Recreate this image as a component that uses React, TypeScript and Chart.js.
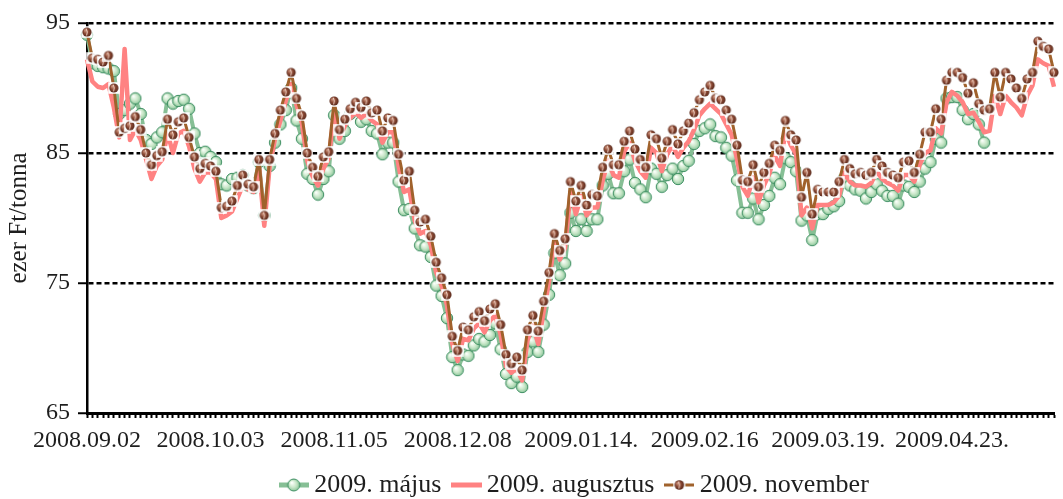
import React, { useEffect, useRef } from 'react';
import { Chart, registerables } from 'chart.js';

Chart.register(...registerables);

// ---- data -------------------------------------------------------------
const TICK_LABELS = [
  '2008.09.02', '2008.10.03', '2008.11.05', '2008.12.08',
  '2009.01.14.', '2009.02.16', '2009.03.19.', '2009.04.23.',
];
const LABEL_STEP = 23; // one label every 23 trading days

const SERIES_NAMES = ['2009. május', '2009. augusztus', '2009. november'];

const MAY = [
  94.1, 91.9, 91.7, 91.6, 91.5, 91.3, 88.0, 88.3, 88.8, 89.2,
  88.0, 86.0, 85.7, 86.2, 86.6, 89.2, 88.8, 89.0, 89.1, 88.4,
  86.5, 85.0, 85.1, 84.7, 84.3, 82.6, 82.5, 83.0, 83.1, 83.3,
  82.5, 82.3, 84.3, 80.2, 84.0, 85.8, 87.2, 88.3, 90.0, 87.5,
  86.1, 83.4, 83.0, 81.8, 83.0, 83.6, 87.9, 86.1, 86.7, 88.0,
  88.4, 87.4, 87.6, 86.7, 86.5, 84.9, 85.8, 85.8, 82.8, 80.6,
  80.7, 79.2, 77.9, 77.8, 77.0, 74.8, 74.0, 72.3, 69.3, 68.3,
  69.5, 69.4, 70.2, 70.7, 70.5, 71.0, 71.9, 69.9, 68.0, 67.3,
  67.8, 67.0, 69.7, 70.5, 69.7, 71.8, 74.1, 77.3, 75.6, 76.5,
  80.4, 79.0, 79.9, 79.0, 79.9, 79.9, 82.5, 83.4, 81.9, 81.9,
  83.6, 84.5, 82.7, 82.2, 81.6, 83.8, 83.4, 82.4, 83.3, 83.8,
  83.0, 84.0, 84.4, 85.7, 86.7, 86.9, 87.2, 86.3, 86.2, 85.4,
  84.8, 82.9, 80.4, 80.4, 81.5, 79.9, 81.0, 81.7, 83.1, 82.6,
  84.6, 84.3, 83.6, 79.8, 80.2, 78.3, 80.3, 80.3, 80.7, 80.9,
  81.3, 83.1, 82.5, 82.2, 82.1, 81.5, 82.0, 82.6, 82.1, 81.7,
  81.7, 81.1, 82.5, 82.4, 82.0, 82.8, 83.8, 84.3, 86.1, 85.8,
  89.2, 89.3, 89.3, 88.3, 87.6, 88.0, 87.2, 85.8,
];

const AUG = [
  92.2, 90.5, 90.1, 90.0, 90.3, 88.5, 86.2, 93.0, 86.0, 86.8,
  86.0, 84.5, 83.0, 84.0, 84.5, 86.5, 85.0, 86.5, 86.7, 85.5,
  83.8, 82.8, 83.5, 83.5, 83.0, 80.0, 80.2, 80.5, 81.5, 82.5,
  82.2, 82.0, 84.0, 79.4, 84.0, 86.1, 87.5, 89.0, 90.3, 88.7,
  87.3, 84.4, 83.2, 82.5, 83.8, 84.6, 88.1, 86.1, 87.1, 87.7,
  88.1, 87.7, 88.0, 87.5, 87.2, 85.8, 86.6, 86.6, 84.0, 82.0,
  82.2, 79.8, 78.8, 79.0, 77.9, 75.8, 74.8, 73.3, 70.3, 69.0,
  70.7, 70.6, 71.5, 71.9, 71.2, 72.1, 72.5, 71.0, 68.6, 68.1,
  68.4, 67.5, 70.6, 71.7, 70.3, 72.8, 75.1, 78.1, 76.8, 77.7,
  82.0, 80.3, 81.7, 80.2, 80.8, 80.8, 82.9, 84.4, 83.3, 83.1,
  85.1, 85.8, 84.4, 83.6, 83.1, 85.4, 85.0, 83.6, 84.9, 85.6,
  84.7, 85.4, 85.9, 86.8, 87.9, 88.4, 88.8, 88.4, 88.0, 87.2,
  86.4, 84.5, 82.4, 81.7, 83.1, 81.2, 82.5, 83.4, 84.8, 84.0,
  86.6, 85.6, 84.9, 80.2, 80.8, 79.2, 81.0, 81.0, 81.0, 81.2,
  81.7, 83.5, 82.8, 82.5, 82.5, 82.4, 82.7, 83.6, 83.0, 82.7,
  82.5, 82.1, 83.3, 83.3, 82.8, 84.1, 85.0, 85.2, 86.9, 86.5,
  88.9, 89.7, 89.4, 88.9, 88.0, 88.1, 87.4, 86.6, 86.7, 89.4,
  88.0, 89.4, 88.9, 88.5, 87.9, 89.4, 90.2, 92.2, 91.9, 91.7,
  90.1,
];

const NOV = [
  94.3, 92.3, 92.2, 92.0, 92.5, 90.0, 86.6, 86.9, 87.1, 87.8,
  86.8, 85.0, 84.1, 84.8, 85.1, 87.6, 86.4, 87.4, 87.7, 86.2,
  84.7, 83.8, 84.2, 84.0, 83.6, 80.8, 80.9, 81.3, 82.5, 83.3,
  82.6, 82.4, 84.5, 80.2, 84.5, 86.5, 88.3, 89.7, 91.2, 89.2,
  87.9, 85.0, 83.9, 83.2, 84.7, 85.1, 89.0, 86.8, 87.6, 88.4,
  88.9, 88.5, 89.0, 88.1, 88.3, 86.7, 87.7, 87.5, 84.9, 82.9,
  83.6, 80.6, 79.7, 79.9, 78.6, 76.6, 75.4, 74.1, 70.9, 69.8,
  71.6, 71.4, 72.4, 72.8, 72.1, 73.0, 73.4, 71.8, 69.5, 68.8,
  69.3, 68.3, 71.4, 72.5, 71.3, 73.6, 75.8, 78.8, 77.5, 78.4,
  82.8, 81.3, 82.5, 81.0, 81.8, 81.7, 83.9, 85.3, 84.1, 84.1,
  85.9, 86.7, 85.3, 84.5, 83.9, 86.4, 86.1, 84.6, 85.9, 86.8,
  85.7, 86.7, 87.3, 88.1, 89.1, 89.7, 90.2, 89.2, 89.1, 88.3,
  87.6, 85.6, 82.9, 82.8, 84.1, 82.4, 83.5, 84.2, 85.6, 85.2,
  87.5, 86.4, 86.0, 81.6, 83.5, 80.3, 82.2, 82.0, 82.0, 82.0,
  82.8, 84.5, 83.8, 83.4, 83.5, 83.3, 83.5, 84.5, 84.0, 83.5,
  83.3, 83.1, 84.3, 84.4, 83.5, 84.9, 86.6, 86.6, 88.4, 87.6,
  90.6, 91.2, 91.2, 90.8, 89.6, 90.4, 88.8, 88.3, 88.4, 91.2,
  89.3, 91.2, 90.7, 90.0, 89.2, 90.7, 91.2, 93.6, 93.2, 93.0,
  91.2,
];

const Y_MIN = 65;
const Y_MAX = 95;
const Y_STEP = 10;

// ---- styling -----------------------------------------------------------
const W = 1063;
const H = 499;
const FONT = "'Liberation Serif', 'DejaVu Serif', serif";
const TEXT = '#1e1e1e';
const GREEN_LINE = '#86bf95';
const RED_LINE = '#ff8282';
const BROWN_LINE = '#a0622c';

const LEGEND_FONT = 26;
const LEGEND_PAD = 17.5;
const LEGEND_H = LEGEND_FONT + LEGEND_PAD + 10;
const PLOT_BOTTOM = 413;
const X_AXIS_H = H - LEGEND_H - PLOT_BOTTOM;
const LEGEND_DY = 9;
const LEGEND_DX = 7;

function makeCanvas(w: number, h: number) {
  const c = document.createElement('canvas');
  c.width = w;
  c.height = h;
  return c;
}

function drawGreenBall(ctx: CanvasRenderingContext2D, cx: number, cy: number, r: number) {
  const g = ctx.createRadialGradient(cx - r * 0.35, cy - r * 0.4, r * 0.1, cx, cy, r);
  g.addColorStop(0, '#fbfffa');
  g.addColorStop(0.55, '#c9e7c9');
  g.addColorStop(1, '#8cc79b');
  ctx.fillStyle = g;
  ctx.beginPath();
  ctx.arc(cx, cy, r, 0, Math.PI * 2);
  ctx.fill();
  ctx.strokeStyle = '#3f8f63';
  ctx.lineWidth = 1;
  ctx.stroke();
}

function drawBean(ctx: CanvasRenderingContext2D, cx: number, cy: number, size: number) {
  ctx.fillStyle = '#ffffff';
  ctx.fillRect(cx - size / 2, cy - size / 2, size, size);
  const r = size * 0.4;
  const g = ctx.createRadialGradient(cx - r * 0.4, cy - r * 0.4, r * 0.1, cx, cy, r);
  g.addColorStop(0, '#c9907a');
  g.addColorStop(0.5, '#8c4a35');
  g.addColorStop(1, '#5a291b');
  ctx.fillStyle = g;
  ctx.beginPath();
  ctx.arc(cx, cy, r, 0, Math.PI * 2);
  ctx.fill();
  ctx.strokeStyle = 'rgba(255,232,220,0.85)';
  ctx.lineWidth = 1;
  ctx.beginPath();
  ctx.moveTo(cx - 0.8, cy - r * 0.75);
  ctx.quadraticCurveTo(cx + 1.2, cy, cx - 0.4, cy + r * 0.75);
  ctx.stroke();
}

function greenMarker() {
  const c = makeCanvas(14, 14);
  drawGreenBall(c.getContext('2d')!, 7, 7, 5.7);
  return c;
}

function brownMarker() {
  const c = makeCanvas(12, 12);
  drawBean(c.getContext('2d')!, 6, 6, 11.5);
  return c;
}

function greenLegendIcon() {
  const c = makeCanvas(30, 14);
  const ctx = c.getContext('2d')!;
  ctx.fillStyle = GREEN_LINE;
  ctx.fillRect(0, 4.5, 30, 5);
  drawGreenBall(ctx, 15, 7, 6);
  return c;
}

function redLegendIcon() {
  const c = makeCanvas(31, 6);
  const ctx = c.getContext('2d')!;
  ctx.fillStyle = RED_LINE;
  ctx.fillRect(0, 0.5, 31, 5);
  return c;
}

function brownLegendIcon() {
  const c = makeCanvas(30, 14);
  const ctx = c.getContext('2d')!;
  ctx.fillStyle = BROWN_LINE;
  ctx.fillRect(0, 5.5, 30, 3);
  drawBean(ctx, 15, 7, 12);
  return c;
}

export default function App() {
  const ref = useRef<HTMLCanvasElement | null>(null);

  useEffect(() => {
    document.body.style.margin = '0';
    const canvas = ref.current;
    if (!canvas) return;

    const categories = NOV.map((_, i) =>
      i % LABEL_STEP === 0 ? TICK_LABELS[i / LABEL_STEP] ?? '' : ''
    );
    const legendIcons = [greenLegendIcon(), redLegendIcon(), brownLegendIcon()];

    const layoutTweak = {
      id: 'layoutTweak',
      afterLayout(chart: any) {
        const l = chart.legend;
        if (l) {
          l.left = chart.chartArea.left + LEGEND_DX;
          l.right = chart.chartArea.right + LEGEND_DX;
          l.top += LEGEND_DY;
          l.bottom += LEGEND_DY;
        }
        // let the x tick labels use the full height below the axis (no clipping)
        const xs = chart.scales.x;
        if (xs) {
          xs.bottom = H;
          xs.height = xs.bottom - xs.top;
        }
      },
    };

    Chart.defaults.font.family = FONT;
    Chart.defaults.color = TEXT;

    const chart = new Chart(canvas, {
      type: 'line',
      data: {
        labels: categories,
        datasets: [
          {
            label: SERIES_NAMES[0],
            data: MAY,
            order: 2,
            borderColor: GREEN_LINE,
            backgroundColor: GREEN_LINE,
            borderWidth: 4,
            pointStyle: greenMarker() as any,
            pointRadius: 5,
            pointHoverRadius: 5,
            tension: 0,
            borderJoinStyle: 'round',
            clip: false as any,
          },
          {
            label: SERIES_NAMES[1],
            data: AUG,
            order: 1,
            borderColor: RED_LINE,
            backgroundColor: RED_LINE,
            borderWidth: 4.5,
            pointRadius: 0,
            pointHoverRadius: 0,
            tension: 0,
            borderJoinStyle: 'round',
            clip: false as any,
          },
          {
            label: SERIES_NAMES[2],
            data: NOV,
            order: 0,
            borderColor: BROWN_LINE,
            backgroundColor: BROWN_LINE,
            borderWidth: 3,
            pointStyle: brownMarker() as any,
            pointRadius: 5,
            pointHoverRadius: 5,
            tension: 0,
            borderJoinStyle: 'round',
            clip: false as any,
          },
        ],
      },
      options: {
        responsive: false,
        animation: false,
        events: [],
        devicePixelRatio: 1,
        layout: { padding: { top: 23, right: 1, left: 0, bottom: 0 } },
        plugins: {
          tooltip: { enabled: false },
          title: { display: false },
          legend: {
            display: true,
            position: 'bottom',
            labels: {
              usePointStyle: true,
              pointStyleWidth: 15,
              padding: LEGEND_PAD,
              color: TEXT,
              font: { size: LEGEND_FONT, family: FONT },
              sort: (a: any, b: any) => a.datasetIndex - b.datasetIndex,
              generateLabels: (ch: any) => {
                const items = (Chart.defaults.plugins.legend.labels as any).generateLabels(ch);
                return items.map((it: any) => ({
                  ...it,
                  pointStyle: legendIcons[it.datasetIndex],
                  fontColor: TEXT,
                  lineWidth: 0,
                }));
              },
            },
          },
        },
        scales: {
          x: {
            type: 'category',
            offset: false,
            grid: {
              display: true,
              drawOnChartArea: false,
              drawTicks: true,
              tickLength: 5,
              tickColor: '#000',
              tickWidth: 2,
              offset: false,
            },
            border: { display: true, color: '#000', width: 3 },
            ticks: {
              autoSkip: false,
              maxRotation: 0,
              minRotation: 0,
              padding: 8,
              color: TEXT,
              font: { size: 24, family: FONT },
            },
            afterFit: (s: any) => {
              s.height = X_AXIS_H;
            },
          },
          y: {
            type: 'linear',
            min: Y_MIN,
            max: Y_MAX,
            ticks: {
              stepSize: Y_STEP,
              padding: 8,
              color: TEXT,
              font: { size: 24, family: FONT },
            },
            grid: {
              color: (c: any) => (c.tick && c.tick.value === Y_MIN ? 'rgba(0,0,0,0)' : '#000'),
              lineWidth: 2.5,
              drawTicks: true,
              tickLength: 9,
              tickColor: '#000',
              tickWidth: 2,
              tickBorderDash: [],
            },
            border: { display: true, color: '#000', width: 2.5, dash: [5, 3] },
            title: {
              display: true,
              text: 'ezer Ft/tonna',
              color: TEXT,
              font: { size: 25, family: FONT },
              padding: { top: 4, bottom: 0 },
            },
            afterFit: (s: any) => {
              s.width = 87;
            },
          },
        },
      } as any,
      plugins: [layoutTweak],
    });

    return () => chart.destroy();
  }, []);

  return (
    <div style={{ width: W, height: H }}>
      <canvas ref={ref} width={W} height={H} style={{ display: 'block' }} />
    </div>
  );
}
